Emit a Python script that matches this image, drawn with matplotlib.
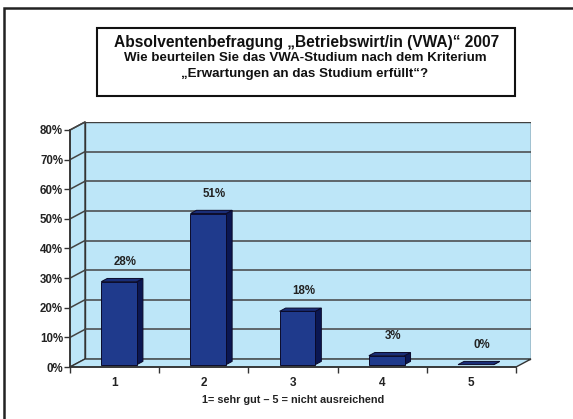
import matplotlib.pyplot as plt
from matplotlib.patches import Polygon, Rectangle

plt.rcParams["font.family"] = ["Liberation Sans", "DejaVu Sans"]
plt.rcParams["font.weight"] = "bold"

# data
categories = ["1", "2", "3", "4", "5"]
values = [28, 51, 18, 3, 0]
value_labels = ["28%", "51%", "18%", "3%", "0%"]
y_ticks = [0, 10, 20, 30, 40, 50, 60, 70, 80]
y_tick_labels = [f"{t}%" for t in y_ticks]

title_lines = [
    "Absolventenbefragung „Betriebswirt/in (VWA)“ 2007",
    "Wie beurteilen Sie das VWA-Studium nach dem Kriterium",
    "„Erwartungen an das Studium erfüllt“?",
]
x_label = "1= sehr gut – 5 = nicht ausreichend"

WALL = "#bde6f8"
EDGE = "#333333"
FRONT = "#1f3a8c"
SIDE = "#0b1752"
TOP = "#1a2e78"

# pseudo 3d depth in data units
DX = 0.168
DY = 2.7
BAR_W = 0.40
F_DEPTH = 0.3
B_DEPTH = 0.7

W, H = 573, 419
fig = plt.figure(figsize=(W / 100, H / 100), dpi=100)

# axes: front plane 0.5..5.5 x 0..80, extended by depth offset
left_px, right_px, bottom_px, top_px = 70, 531, 367, 122
ax = fig.add_axes([left_px / W, 1 - bottom_px / H,
                   (right_px - left_px) / W, (bottom_px - top_px) / H])
n = len(categories)
x0, x1 = 0.5, n + 0.5
ymax = y_ticks[-1]
ax.set_xlim(x0, x1 + DX)
ax.set_ylim(0, ymax + DY)
ax.patch.set_visible(False)

# back wall, side wall, floor
ax.add_patch(Rectangle((x0 + DX, DY), x1 - x0, ymax, facecolor=WALL,
                       edgecolor=EDGE, linewidth=1.0, zorder=0))
ax.add_patch(Polygon([(x0, 0), (x0 + DX, DY), (x0 + DX, ymax + DY), (x0, ymax)],
                     closed=True, facecolor=WALL, edgecolor=EDGE, linewidth=1.0,
                     zorder=0, clip_on=False))
ax.add_patch(Polygon([(x0, 0), (x1, 0), (x1 + DX, DY), (x0 + DX, DY)],
                     closed=True, facecolor=WALL, edgecolor=EDGE, linewidth=1.0,
                     zorder=0, clip_on=False))

# gridlines on back wall and side wall
for t in y_ticks[1:]:
    ax.plot([x0 + DX, x1 + DX], [t + DY, t + DY], color="#444444", lw=1.1, zorder=1)
    ax.plot([x0, x0 + DX], [t, t + DY], color="#444444", lw=1.1, zorder=1, clip_on=False)

# bars
for i, v in enumerate(values):
    c = i + 1
    a, b = c - BAR_W / 2, c + BAR_W / 2
    fx, fy = F_DEPTH * DX, F_DEPTH * DY
    bx, by = B_DEPTH * DX, B_DEPTH * DY
    side = [(b + fx, fy), (b + bx, by), (b + bx, v + by), (b + fx, v + fy)]
    top = [(a + fx, v + fy), (b + fx, v + fy), (b + bx, v + by), (a + bx, v + by)]
    ax.add_patch(Polygon(side, closed=True, facecolor=SIDE, edgecolor="#0a0a2a",
                         linewidth=0.7, zorder=3))
    ax.add_patch(Polygon(top, closed=True, facecolor=TOP, edgecolor="#0a0a2a",
                         linewidth=0.7, zorder=3))
    if v > 0:
        ax.add_patch(Rectangle((a + fx, fy), BAR_W, v, facecolor=FRONT,
                               edgecolor="#0a0a2a", linewidth=0.7, zorder=4))
    ax.text(c + 0.12, v + 7.5, value_labels[i], ha="center", va="center",
            fontsize=8.3, fontweight="bold", color="#222222", zorder=5)

# axes lines and ticks
for s in ("top", "right"):
    ax.spines[s].set_visible(False)
ax.spines["left"].set_bounds(0, ymax)
ax.spines["bottom"].set_bounds(x0, x1)
for s in ("left", "bottom"):
    ax.spines[s].set_color(EDGE)
    ax.spines[s].set_linewidth(1.2)
    ax.spines[s].set_zorder(6)

ax.set_yticks(y_ticks)
ax.set_yticklabels(y_tick_labels)
ax.tick_params(axis="y", direction="out", length=4, width=1, color=EDGE,
               labelsize=8.3, pad=1, labelcolor="#222222")
ax.set_xticks([x0 + k for k in range(n + 1)])
ax.set_xticklabels([])
ax.set_xticks(range(1, n + 1), minor=True)
ax.set_xticklabels(categories, minor=True)
ax.tick_params(axis="x", which="major", direction="out", length=4, width=1, color=EDGE)
ax.tick_params(axis="x", which="minor", length=0, labelsize=8.5, pad=7,
               labelcolor="#222222")
for lab in ax.get_yticklabels() + ax.get_xticklabels(minor=True):
    lab.set_fontweight("bold")

fig.text(((70 + 516) / 2) / W, 1 - 400 / H, x_label, ha="center", va="center",
         fontsize=7.8, fontweight="bold", color="#222222")

# title box
fig.patches.append(Rectangle((97 / W, 1 - 96 / H), (515 - 97) / W, (96 - 28) / H,
                             transform=fig.transFigure, facecolor="white",
                             edgecolor="#111111", linewidth=1.5))
fig.text(307 / W, 1 - 42 / H, title_lines[0], ha="center", va="center",
         fontsize=11.2, fontweight="bold", color="#111111")
fig.text(305 / W, 1 - 58 / H, title_lines[1], ha="center", va="center",
         fontsize=9.6, fontweight="bold", color="#111111")
fig.text(305 / W, 1 - 74 / H, title_lines[2], ha="center", va="center",
         fontsize=9.6, fontweight="bold", color="#111111")

# outer frame
fig.patches.append(Rectangle((4 / W, -0.05), 1.2, 1 - 8 / H + 0.05,
                             transform=fig.transFigure, facecolor="none",
                             edgecolor="#222222", linewidth=1.8))

fig.savefig("out.png", dpi=100)
